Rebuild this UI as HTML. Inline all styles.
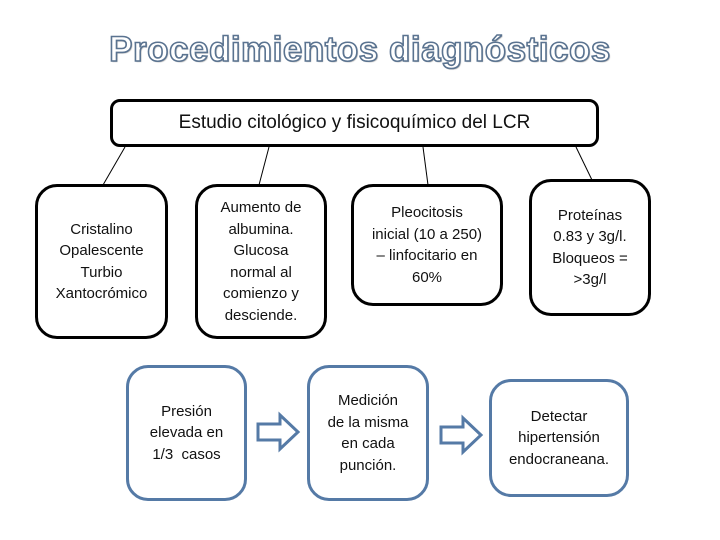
<!DOCTYPE html>
<html><head><meta charset="utf-8"><style>
body{margin:0;width:720px;height:540px;background:#fff;position:relative;overflow:hidden;font-family:"Liberation Sans",sans-serif}
.t{position:absolute;left:0;width:720px;top:30px;text-align:center;font-size:35px;font-weight:bold;color:#fff;-webkit-text-stroke:1.6px #5a7390;letter-spacing:0.5px;text-shadow:1px 1px 1px #aaa}
.b{position:absolute;box-sizing:border-box;display:flex;align-items:center;justify-content:center;text-align:center;font-size:15px;line-height:21.5px;color:#111;background:#fff}
.k{border:3px solid #000;border-radius:22px}
.u{border:3px solid #557aa6;border-radius:22px}
</style></head><body>
<div class="t">Procedimientos diagnósticos</div>
<svg width="720" height="540" style="position:absolute;left:0;top:0">
<g stroke="#000" stroke-width="1">
<line x1="125" y1="147" x2="103" y2="185"/>
<line x1="269" y1="147" x2="259" y2="185"/>
<line x1="423" y1="147" x2="428" y2="185"/>
<line x1="576" y1="147" x2="592" y2="180"/>
</g>
<g fill="#fff" stroke="#557aa6" stroke-width="3">
<polygon points="258,424 280,424 280,415 298,432 280,449 280,440 258,440"/>
<polygon points="441,427 463,427 463,418 481,435 463,452 463,443 441,443"/>
</g>
</svg>
<div class="b k" style="left:110px;top:99px;width:489px;height:48px;border-radius:10px;font-size:19px">Estudio citológico y fisicoquímico del LCR</div>
<div class="b k" style="left:35px;top:184px;width:133px;height:155px">Cristalino<br>Opalescente<br>Turbio<br>Xantocrómico</div>
<div class="b k" style="left:195px;top:184px;width:132px;height:155px">Aumento de<br>albumina.<br>Glucosa<br>normal al<br>comienzo y<br>desciende.</div>
<div class="b k" style="left:351px;top:184px;width:152px;height:122px">Pleocitosis<br>inicial (10 a 250)<br>– linfocitario en<br>60%</div>
<div class="b k" style="left:529px;top:179px;width:122px;height:137px">Proteínas<br>0.83 y 3g/l.<br>Bloqueos =<br>&gt;3g/l</div>
<div class="b u" style="left:126px;top:365px;width:121px;height:136px">Presión<br>elevada en<br>1/3&nbsp; casos</div>
<div class="b u" style="left:307px;top:365px;width:122px;height:136px">Medición<br>de la misma<br>en cada<br>punción.</div>
<div class="b u" style="left:489px;top:379px;width:140px;height:118px">Detectar<br>hipertensión<br>endocraneana.</div>
</body></html>
